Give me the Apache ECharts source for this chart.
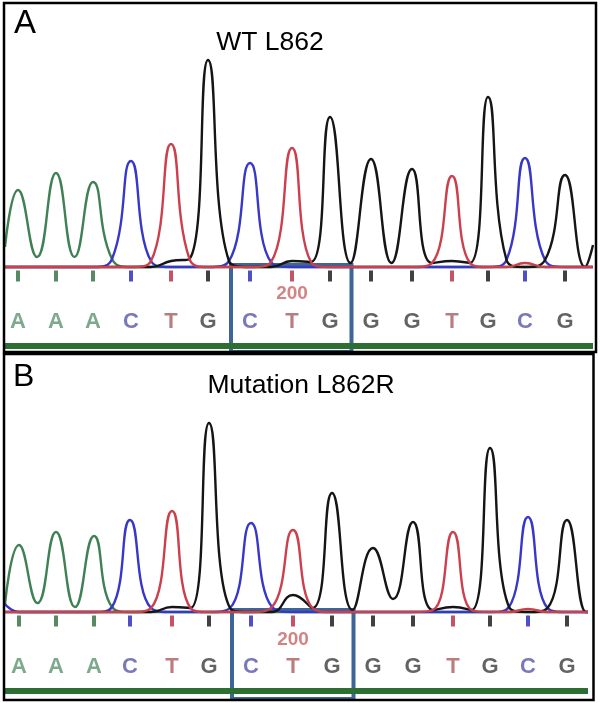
<!DOCTYPE html>
<html>
<head>
<meta charset="utf-8">
<script src="https://cdn.jsdelivr.net/npm/echarts@6/dist/echarts.min.js"></script>
<style>
  html, body { margin: 0; padding: 0; background: #fff; }
  #chart { width: 600px; height: 703px; }
</style>
</head>
<body>
<div id="chart"></div>
<script>
// base calls of the two reads (same reference stretch)
var callsA = ['A', 'A', 'A', 'C', 'T', 'G', 'C', 'T', 'G', 'G', 'G', 'T', 'G', 'C', 'G'];
var callsB = ['A', 'A', 'A', 'C', 'T', 'G', 'C', 'T', 'G', 'G', 'G', 'T', 'G', 'C', 'G'];
// scan position of each called peak
var posA = [18, 56, 93, 131, 171, 208, 250, 292, 330, 371, 412, 452, 488, 525, 565];
var posB = [19, 56, 94, 130, 172, 209, 251, 293, 332, 373, 413, 453, 490, 528, 567];
// signal height of each called peak
var peakA = [77, 94, 85, 106, 123, 207, 104, 119, 150, 108, 98, 91, 170, 109, 92];
var peakB = [67, 80, 76, 92, 101, 189, 89, 82, 119, 64, 90, 80, 164, 95, 92];
// trace height between base i and i+1
var dipA = [10, 10, 8, 6, 8, 6, 5, 5, 4, 4, 4, 4, 7, 7];
var dipB = [9, 5, 5, 4, 4, 4, 5, 4, 2, 13, 2, 2, 5, 4];
// secondary peaks: [base index, channel, height]
var minorA = [[4, 'G', 6], [7, 'G', 6], [11, 'G', 6], [13, 'T', 4]];
var minorB = [[4, 'G', 5], [7, 'G', 17], [11, 'G', 5], [13, 'T', 3]];
// signal at the first / last scan of the window
var headA = {A: 20}, tailA = {G: 22};
var headB = {A: 8, C: 8}, tailB = {};
var scansA = [5, 593], scansB = [5, 588];

var titleA = 'WT L862', titleB = 'Mutation L862R';
var numberedBase = 7, baseNumber = '200';
var codon = [6, 8];

var traceColor = {A: '#3f8155', C: '#3838c8', G: '#151515', T: '#cc3f4c'};
var tickColor = {A: '#2e6b3c', C: '#2424b8', G: '#111111', T: '#b8283c'};
var letterColor = {A: '#5c9470', C: '#5858a8', G: '#3c3c3c', T: '#a85c5c'};
var font = '"Liberation Sans", Arial, sans-serif';

function trace(calls, pos, peak, dip, minor, head, tail, scans, ch) {
  var pts = [[scans[0], head[ch] || 0]];
  for (var i = 0; i < calls.length; i++) {
    var v = calls[i] === ch ? peak[i] : 0;
    minor.forEach(function (m) { if (m[0] === i && m[1] === ch) v = m[2]; });
    pts.push([pos[i], v]);
    if (i < calls.length - 1) {
      var hit = calls[i] === ch || calls[i + 1] === ch;
      pts.push([(pos[i] + pos[i + 1]) / 2, hit ? dip[i] : 0]);
    }
  }
  var n = pos.length - 1;
  pts.push([Math.min(pos[n] + (pos[n] - pos[n - 1]) / 2, scans[1] - 2), 0]);
  pts.push([scans[1], tail[ch] || 0]);
  return pts;
}

function panelSeries(k, calls, pos, peak, dip, minor, head, tail, scans, numY) {
  var out = [];
  ['A', 'C', 'G', 'T'].forEach(function (ch, j) {
    out.push({
      type: 'line', xAxisIndex: k, yAxisIndex: k, z: 2 + j,
      data: trace(calls, pos, peak, dip, minor, head, tail, scans, ch),
      smooth: 0.5, showSymbol: false, symbol: 'none',
      lineStyle: {color: traceColor[ch], width: 2.4}
    });
  });
  // base ticks under the baseline
  out.push({
    type: 'scatter', xAxisIndex: k, yAxisIndex: k, z: 6,
    symbol: 'rect', symbolSize: [4, 11],
    data: calls.map(function (c, i) {
      return {value: [pos[i], -9], itemStyle: {color: tickColor[c]}};
    })
  });
  // called letters
  out.push({
    type: 'scatter', xAxisIndex: k, yAxisIndex: k, z: 6,
    symbolSize: 1, itemStyle: {color: 'rgba(0,0,0,0)'},
    data: calls.map(function (c, i) {
      return {value: [pos[i], -55], name: c,
        label: {color: letterColor[c]}};
    }),
    label: {show: true, position: 'inside', formatter: '{b}',
      fontSize: 22, fontWeight: 'bold', fontFamily: font}
  });
  // base number
  out.push({
    type: 'scatter', xAxisIndex: k, yAxisIndex: k, z: 6,
    symbolSize: 1, itemStyle: {color: 'rgba(0,0,0,0)'},
    data: [{value: [pos[numberedBase], numY], name: baseNumber}],
    label: {show: true, position: 'inside', formatter: '{b}',
      fontSize: 19, fontWeight: 'bold', fontFamily: font, color: '#c86464'}
  });
  // quality bar + codon box
  var boxL = (pos[codon[0] - 1] + pos[codon[0]]) / 2 + 2;
  var boxR = (pos[codon[1]] + pos[codon[1] + 1]) / 2 + 1;
  out.push({
    type: 'line', xAxisIndex: k, yAxisIndex: k, z: 1,
    data: [[scans[0], -79], [scans[1], -79]],
    showSymbol: false, symbol: 'none',
    lineStyle: {color: '#2d6e33', width: 6},
    markArea: {
      silent: true,
      itemStyle: {color: 'rgba(0,0,0,0)', borderColor: '#3d6598', borderWidth: 4},
      data: [[{coord: [boxL, 2]}, {coord: [boxR, k === 0 ? -85 : -87]}]]
    }
  });
  return out;
}

var chart = echarts.init(document.getElementById('chart'));
var option = {
  animation: false,
  grid: [
    {left: 0, right: 0, top: 47, height: 308},
    {left: 0, right: 0, top: 392, height: 310}
  ],
  xAxis: [
    {type: 'value', gridIndex: 0, min: 0, max: 600, show: false},
    {type: 'value', gridIndex: 1, min: 0, max: 600, show: false}
  ],
  yAxis: [
    {type: 'value', gridIndex: 0, min: -88, max: 220, show: false},
    {type: 'value', gridIndex: 1, min: -90, max: 220, show: false}
  ],
  series: [].concat(
    panelSeries(0, callsA, posA, peakA, dipA, minorA, headA, tailA, scansA, -27),
    panelSeries(1, callsB, posB, peakB, dipB, minorB, headB, tailB, scansB, -28)
  ),
  graphic: [
    {type: 'rect', z: 10, shape: {x: 4, y: 3, width: 592, height: 349},
      style: {fill: 'none', stroke: '#000', lineWidth: 2.5}},
    {type: 'rect', z: 10, shape: {x: 4, y: 354, width: 589.5, height: 346},
      style: {fill: 'none', stroke: '#000', lineWidth: 2.5}},
    {type: 'text', z: 10, x: 14, y: 24,
      style: {text: 'A', font: '33px ' + font, fill: '#000', align: 'left', verticalAlign: 'middle'}},
    {type: 'text', z: 10, x: 270, y: 43,
      style: {text: titleA, font: '26.5px ' + font, fill: '#000', align: 'center', verticalAlign: 'middle'}},
    {type: 'text', z: 10, x: 13, y: 377,
      style: {text: 'B', font: '32px ' + font, fill: '#000', align: 'left', verticalAlign: 'middle'}},
    {type: 'text', z: 10, x: 301, y: 386,
      style: {text: titleB, font: '26.5px ' + font, fill: '#000', align: 'center', verticalAlign: 'middle'}}
  ]
};
chart.setOption(option);
</script>
</body>
</html>
